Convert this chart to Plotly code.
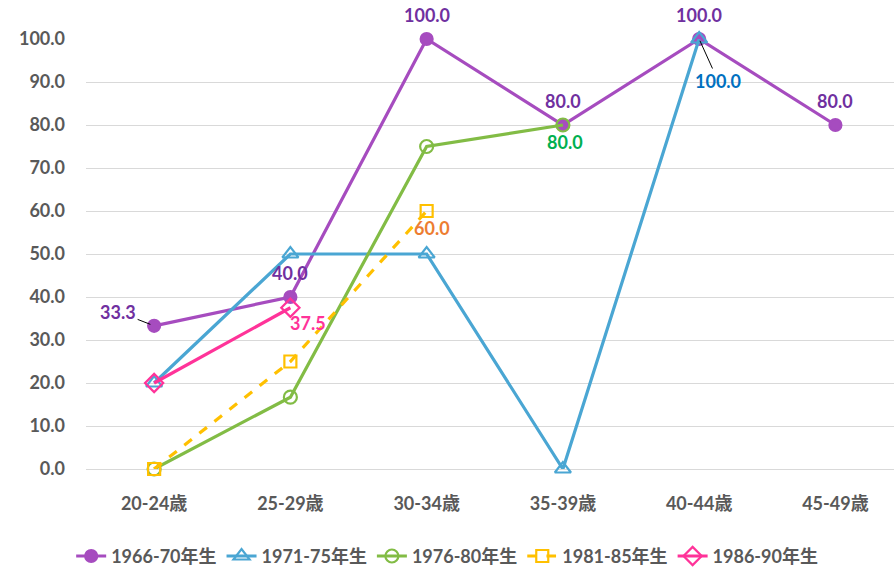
import plotly.graph_objects as go

# Age-group categories on the x axis
age_groups = ["20-24歳", "25-29歳", "30-34歳", "35-39歳", "40-44歳", "45-49歳"]

# Rates (%) per birth cohort; None where the cohort has no value
cohort_1966_70 = [33.3, 40.0, 100.0, 80.0, 100.0, 80.0]
cohort_1971_75 = [20.0, 50.0, 50.0, 0.0, 100.0, None]
cohort_1976_80 = [0.0, 16.7, 75.0, 80.0, None, None]
cohort_1981_85 = [0.0, 25.0, 60.0, None, None, None]
cohort_1986_90 = [20.0, 37.5, None, None, None, None]

series_names = ["1966-70年生", "1971-75年生", "1976-80年生", "1981-85年生", "1986-90年生"]

TICK_FONT = dict(family="Lato, 'Noto Sans CJK JP', sans-serif", size=18, color="#595959", weight="bold")
LABEL_FAMILY = "Lato, 'Noto Sans CJK JP', sans-serif"

styles = [
    dict(color="#A64CBF", symbol="circle", dash="solid", size=12),
    dict(color="#4AA6D3", symbol="triangle-up-open", dash="solid", size=14),
    dict(color="#82BC45", symbol="circle-open", dash="solid", size=13),
    dict(color="#FFC000", symbol="square-open", dash="dash", size=12),
    dict(color="#FF3399", symbol="diamond-open", dash="solid", size=14),
]
all_series = [cohort_1966_70, cohort_1971_75, cohort_1976_80, cohort_1981_85, cohort_1986_90]

fig = go.Figure()
for name, vals, st in zip(series_names, all_series, styles):
    fig.add_trace(go.Scatter(
        x=age_groups, y=vals, name=name, mode="lines+markers",
        line=dict(color=st["color"], width=3.2, dash=st["dash"]),
        marker=dict(symbol=st["symbol"], size=st["size"], color=st["color"],
                    line=dict(color=st["color"], width=2.2)),
        cliponaxis=False,
    ))

# Data labels: (series values, category index, colour, x shift, y shift)
label_specs = [
    (cohort_1966_70, 1, "#7030A0", 0, 24),
    (cohort_1966_70, 2, "#7030A0", 0, 24),
    (cohort_1966_70, 3, "#7030A0", 0, 24),
    (cohort_1966_70, 4, "#7030A0", 0, 24),
    (cohort_1966_70, 5, "#7030A0", 0, 24),
    (cohort_1976_80, 3, "#00B050", 2, -17),
    (cohort_1981_85, 2, "#ED7D31", 5, -17),
    (cohort_1986_90, 1, "#FF3399", 18, -15),
]
for vals, i, col, dx, dy in label_specs:
    fig.add_annotation(
        x=age_groups[i], y=vals[i], text=f"{vals[i]:.1f}", showarrow=False,
        xshift=dx, yshift=dy, font=dict(family=LABEL_FAMILY, size=18, color=col, weight="bold"),
    )

# Labels with leader lines
fig.add_annotation(
    x=age_groups[0], y=cohort_1966_70[0], text=f"{cohort_1966_70[0]:.1f}",
    showarrow=True, arrowhead=0, arrowwidth=1, arrowcolor="#000000",
    ax=-36, ay=-14, standoff=4, xanchor="center",
    font=dict(family=LABEL_FAMILY, size=18, color="#7030A0", weight="bold"),
)
fig.add_annotation(
    x=age_groups[4], y=cohort_1971_75[4], text=f"{cohort_1971_75[4]:.1f}",
    showarrow=True, arrowhead=0, arrowwidth=1, arrowcolor="#000000",
    ax=19, ay=42, standoff=2,
    font=dict(family=LABEL_FAMILY, size=18, color="#0070C0", weight="bold"),
)

fig.update_layout(
    width=894, height=570,
    margin=dict(l=86, r=0, t=39, b=101, autoexpand=False),
    paper_bgcolor="white", plot_bgcolor="white",
    showlegend=True,
    legend=dict(orientation="h", x=0.447, xanchor="center",
                y=-0.16, yanchor="top",
                font=dict(family="Lato, 'Noto Sans CJK JP', sans-serif",
                          size=18, color="#595959", weight="bold"),
                itemwidth=30, tracegroupgap=0),
    xaxis=dict(type="category", range=[-0.5, 5.43], showgrid=False, showline=False,
               ticks="", tickfont=TICK_FONT, ticklabelstandoff=22),
    yaxis=dict(range=[0, 100], dtick=10, tickformat=".1f", showgrid=True,
               gridcolor="#D9D9D9", gridwidth=1, zeroline=True, zerolinecolor="#D9D9D9",
               zerolinewidth=1, showline=False, ticks="", tickfont=TICK_FONT,
               ticklabelstandoff=20),
)

fig.write_html("out.html")
